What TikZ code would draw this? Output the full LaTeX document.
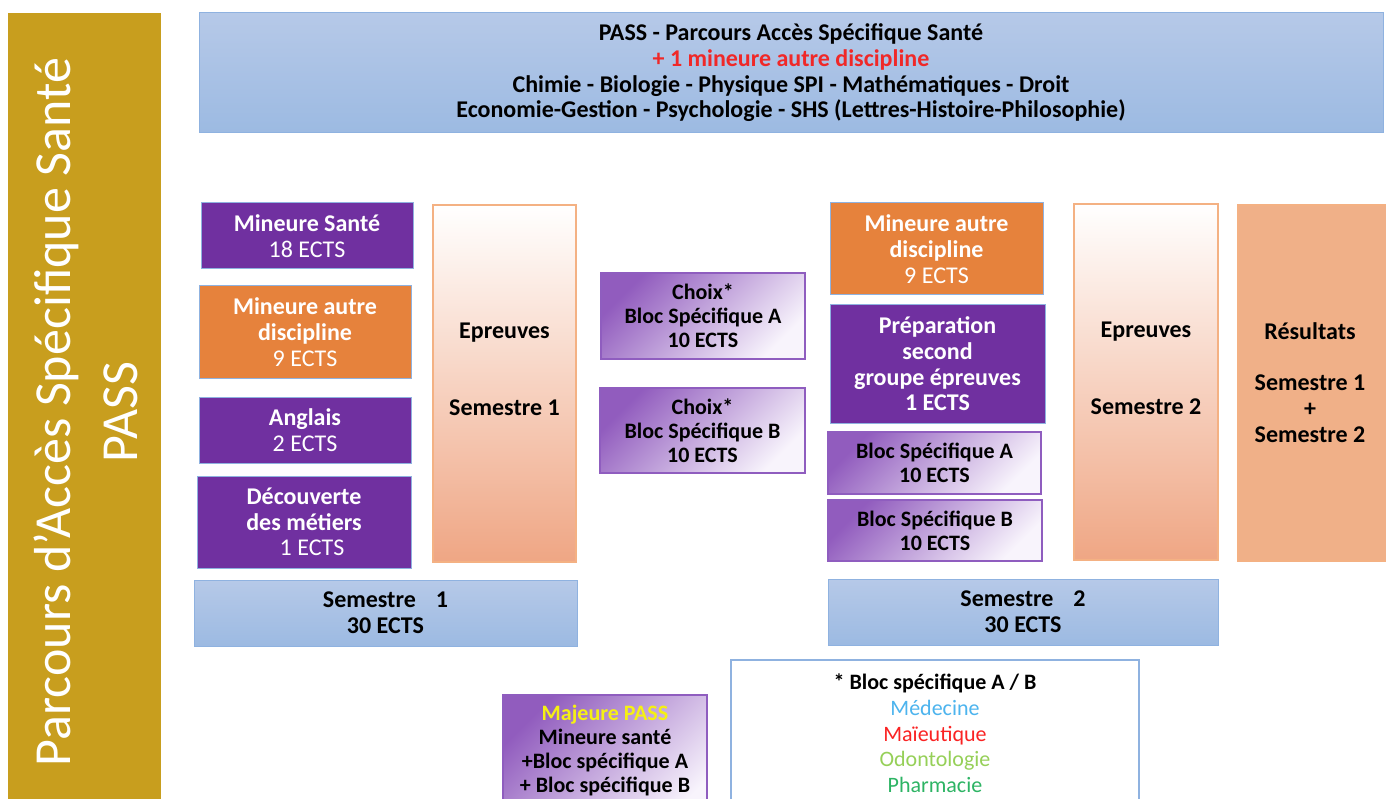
\documentclass[tikz,border=0pt]{standalone}
\usepackage{fontspec}
\setmainfont{Carlito}
\definecolor{gold}{RGB}{200,158,30}
\definecolor{violetbox}{RGB}{112,48,160}
\definecolor{orangebox}{RGB}{230,130,60}
\definecolor{edgeblue}{RGB}{143,178,224}
\definecolor{blueT}{RGB}{182,201,232}
\definecolor{blueB}{RGB}{156,186,226}
\definecolor{salmonB}{RGB}{239,166,132}
\definecolor{salmonD}{RGB}{244,177,131}
\definecolor{resfill}{RGB}{240,176,136}
\definecolor{choixT}{RGB}{145,92,190}
\definecolor{choixB}{RGB}{248,244,252}
\definecolor{choixD}{RGB}{143,93,191}
\definecolor{redtxt}{RGB}{240,40,40}
\definecolor{yeltxt}{RGB}{245,240,20}
\definecolor{medc}{RGB}{77,180,238}
\definecolor{maic}{RGB}{250,35,35}
\definecolor{odoc}{RGB}{150,208,88}
\definecolor{phac}{RGB}{45,180,100}
\newcommand\fsbig{\fontsize{24}{25.7}\selectfont}
\newcommand\fssmall{\fontsize{22}{24}\selectfont}
\tikzset{
  every node/.style={inner sep=0pt, align=center},
  violet/.style={draw=edgeblue, line width=1pt, fill=violetbox, text=white, font=\fsbig},
  orange/.style={draw=edgeblue, line width=1pt, fill=orangebox, text=white, font=\fsbig},
  bluebar/.style={draw=edgeblue, line width=1pt, top color=blueT, bottom color=blueB, font=\fsbig\bfseries},
  epbox/.style={draw=salmonD, line width=1.2pt, top color=white, bottom color=salmonB},
  resbox/.style={draw=salmonD, line width=1.2pt, fill=resfill, font=\fsbig\bfseries},
  choix/.style={draw=choixD, line width=1.2pt, top color=choixT, bottom color=choixB, shading angle=45, font=\fssmall\bfseries},
  txt/.style={font=\fsbig\bfseries}
}
\begin{document}
\begin{tikzpicture}[x=1pt,y=-1pt]
  \useasboundingbox (0,0) rectangle (1386,799);
  \clip (0,0) rectangle (1386,799);
  % bandeau vertical
  \node[fill=gold, minimum width=153pt, minimum height=798pt] (bar) at (84.5,412) {};
  \node[rotate=90, text=white, font=\fontsize{52}{66.7}\selectfont] (bart) at (86,412) {Parcours d’Accès Spécifique Santé\\PASS};
  % en-tete
  \node[bluebar, minimum width=1184pt, minimum height=120pt] (head) at (791,73)
    {PASS - Parcours Accès Spécifique Santé\\\textcolor{redtxt}{+ 1 mineure autre discipline}\\Chimie - Biologie - Physique SPI - Mathématiques - Droit\\Economie-Gestion - Psychologie - SHS (Lettres-Histoire-Philosophie)};
  % semestre 1
  \node[violet, minimum width=212pt, minimum height=66pt] (ms1) at (307,236) {\textbf{Mineure Santé}\\18 ECTS};
  \node[orange, minimum width=212pt, minimum height=92pt] (mad1) at (305,332) {\textbf{Mineure autre}\\\textbf{discipline}\\9 ECTS};
  \node[violet, minimum width=212pt, minimum height=66pt] (ang1) at (305,430) {\textbf{Anglais}\\2 ECTS};
  \node[violet, minimum width=214pt, minimum height=92pt] (dec1) at (304,522) {\textbf{Découverte}\\\textbf{des métiers}\\\hspace*{16pt}1 ECTS};
  \node[epbox, minimum width=143pt, minimum height=357pt] (ep1) at (504.5,383.5) {};
  \node[txt] (ep1t) at (504.5,369.5) {Epreuves\\[51.4pt]Semestre 1};
  \node[bluebar, minimum width=383pt, minimum height=66pt] (sem1) at (385.5,613) {Semestre\hspace{20pt}1\\30 ECTS};
  % choix
  \node[choix, minimum width=204pt, minimum height=86pt] (chA) at (703,316) {Choix*\\Bloc Spécifique A\\10 ECTS};
  \node[choix, minimum width=205pt, minimum height=85pt] (chB) at (702.5,430.5) {Choix*\\Bloc Spécifique B\\10 ECTS};
  % semestre 2
  \node[orange, minimum width=213pt, minimum height=92pt] (mad2) at (936.5,249) {\textbf{Mineure autre}\\\textbf{discipline}\\9 ECTS};
  \node[violet, minimum width=215pt, minimum height=118pt, font=\fsbig\bfseries] (prep2) at (937.5,364) {Préparation\\second\\groupe épreuves\\1 ECTS};
  \node[choix, minimum width=213pt, minimum height=62pt] (blA) at (934.5,463) {Bloc Spécifique A\\10 ECTS};
  \node[choix, minimum width=214pt, minimum height=61pt] (blB) at (935,530.5) {Bloc Spécifique B\\10 ECTS};
  \node[epbox, minimum width=144pt, minimum height=356pt] (ep2) at (1146,382) {};
  \node[txt] (ep2t) at (1146,368) {Epreuves\\[51.4pt]Semestre 2};
  \node[resbox, minimum width=152pt, minimum height=356pt] (res) at (1314,383) {};
  \node[txt] (rest) at (1310,382.5) {Résultats\\[25.7pt]Semestre 1\\+\\Semestre 2};
  \node[bluebar, minimum width=390pt, minimum height=66pt] (sem2) at (1023,612) {Semestre\hspace{20pt}2\\30 ECTS};
  % bas
  \node[choix, minimum width=204pt, minimum height=135pt] (maj) at (605,762.5) {};
  \node[font=\fssmall\bfseries] (majt) at (605,751) {\textcolor{yeltxt}{Majeure PASS}\\Mineure santé\\+Bloc spécifique A\\+ Bloc spécifique B};
  \node[draw=edgeblue, line width=1.2pt, fill=white, minimum width=408pt, minimum height=170pt] (leg) at (935,745) {};
  \node[font=\fontsize{22}{25.7}\selectfont] (legt) at (935,733.5) {\textbf{* Bloc spécifique A / B}\\\textcolor{medc}{Médecine}\\\textcolor{maic}{Maïeutique}\\\textcolor{odoc}{Odontologie}\\\textcolor{phac}{Pharmacie}};
\end{tikzpicture}
\end{document}
